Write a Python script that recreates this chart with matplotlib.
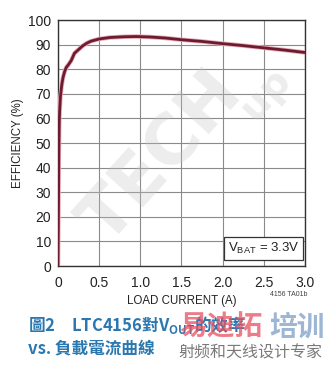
import matplotlib
matplotlib.use("Agg")
import matplotlib.pyplot as plt

load_current = [0.0, 0.005, 0.01, 0.015, 0.02, 0.03, 0.045, 0.06, 0.08, 0.1, 0.13, 0.16, 0.2,
                0.25, 0.3, 0.35, 0.4, 0.5, 0.63, 0.8, 0.95, 1.12, 1.3, 1.5, 1.75, 2.0,
                2.25, 2.5, 2.75, 3.0]
efficiency = [0.0, 20.0, 45.0, 58.0, 63.0, 69.0, 73.5, 76.5, 79.0, 80.7, 82.0, 83.5, 86.5,
              88.0, 89.5, 90.6, 91.4, 92.3, 92.9, 93.2, 93.3, 93.1, 92.7, 92.0, 91.3, 90.4,
              89.6, 88.7, 87.8, 86.8]

x_ticks = [0, 0.5, 1.0, 1.5, 2.0, 2.5, 3.0]
x_labels = ["0", "0.5", "1.0", "1.5", "2.0", "2.5", "3.0"]
y_ticks = [0, 10, 20, 30, 40, 50, 60, 70, 80, 90, 100]

narrow = ["Liberation Sans Narrow", "Liberation Sans", "DejaVu Sans"]
cjk = ["Noto Sans CJK TC", "DejaVu Sans"]
cjk_sc = ["Noto Sans CJK SC", "DejaVu Sans"]

fig = plt.figure(figsize=(3.36, 3.71), dpi=100)
fig.patch.set_facecolor("white")
ax = fig.add_axes([0.1726, 0.283, 0.735, 0.663])

ax.set_xlim(0, 3.0)
ax.set_ylim(0, 100)
ax.set_xticks(x_ticks)
ax.set_xticklabels(x_labels, family=narrow, fontsize=10, color="#222222")
ax.set_yticks(y_ticks)
ax.set_yticklabels([str(v) for v in y_ticks], family=narrow, fontsize=10, color="#222222")
ax.tick_params(axis="y", length=0, pad=5)
ax.tick_params(axis="x", length=0, pad=7)
ax.grid(True, color="#8a8a8a", linewidth=0.8)
ax.set_axisbelow(True)
for s in ax.spines.values():
    s.set_color("#333333")
    s.set_linewidth(1.0)

# faint watermark logo
ax.text(0.42, 0.44, "TECH", transform=ax.transAxes, rotation=48, fontsize=50,
        fontweight="bold", color="#c4c4c4", alpha=0.3, ha="center", va="center",
        family="DejaVu Sans", zorder=1)
ax.text(0.84, 0.7, "up", transform=ax.transAxes, rotation=48, fontsize=28,
        fontweight="bold", color="#c4c4c4", alpha=0.3, ha="center", va="center",
        family="DejaVu Sans", zorder=1)

ax.plot(load_current, efficiency, color="#e9a7b6", linewidth=3.2, zorder=3,
        solid_capstyle="round")
ax.plot(load_current, efficiency, color="#6b1c2e", linewidth=2.0, zorder=4,
        solid_capstyle="round")

ax.text(0.978, 0.04, r"V$_{\mathregular{BAT}}$ = 3.3V", transform=ax.transAxes,
        ha="right", va="bottom", family=narrow, fontsize=9.5, color="#222222",
        bbox=dict(boxstyle="square,pad=0.3", facecolor="white", edgecolor="#333333",
                  linewidth=0.9), zorder=5)

ax.set_xlabel("LOAD CURRENT (A)", family=narrow, fontsize=8.3, color="#222222", labelpad=4)
ax.set_ylabel("EFFICIENCY (%)", family=narrow, fontsize=8.3, color="#222222", labelpad=3)

fig.text(0.915, 0.205, "4156 TA01b", family=narrow, fontsize=5, color="#444444",
         ha="right", va="center")

# caption
fig.text(0.083, 0.124, "圖2　LTC4156對V$_{\\mathregular{OUT}}$的效率", family=cjk,
         fontsize=12, fontweight="bold", color="#2b78b0", ha="left", va="center",
         zorder=2)
fig.text(0.083, 0.062, "vs. 負載電流曲線", family=cjk, fontsize=12, fontweight="bold",
         color="#2b78b0", ha="left", va="center")

# watermark text
fig.text(0.535, 0.117, "易迪拓", family=cjk_sc, fontsize=20, fontweight="bold",
         color="#e85060", alpha=0.75, ha="left", va="center", zorder=3)
fig.text(0.8, 0.117, "培训", family=cjk_sc, fontsize=20, fontweight="bold",
         color="#5b86b8", alpha=0.6, ha="left", va="center", zorder=3)
fig.text(0.53, 0.05, "射频和天线设计专家", family=cjk_sc, fontsize=11.5,
         color="#7a7a7a", ha="left", va="center")

fig.savefig("out.png", dpi=100, facecolor="white")
